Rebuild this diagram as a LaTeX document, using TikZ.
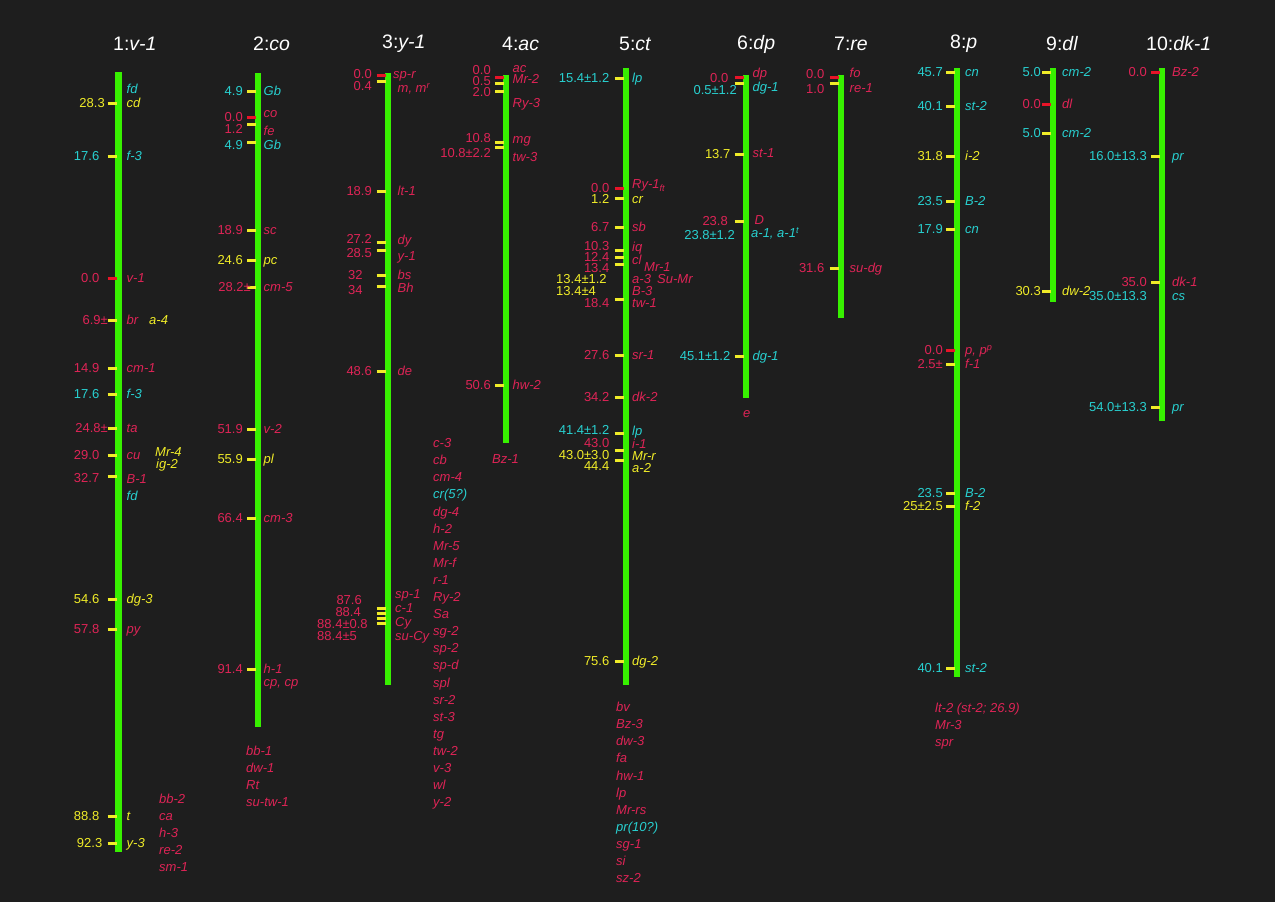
\documentclass[tikz,border=0pt]{standalone}
\usepackage{fontspec}
\setmainfont{Liberation Sans}

\definecolor{bg}{RGB}{30,30,30}
\definecolor{bargreen}{RGB}{55,240,0}
\definecolor{crim}{RGB}{222,36,86}
\definecolor{yel}{RGB}{240,236,40}
\definecolor{cyn}{RGB}{40,208,208}
\definecolor{redtk}{RGB}{232,20,40}

\tikzset{
  chrom/.style={fill=bargreen},
  locus/.style={line width=3pt},
  num/.style={anchor=east, inner sep=0pt, text height=9.3pt, text depth=0pt,
    font=\fontsize{13}{17}\selectfont},
  gene/.style={anchor=west, inner sep=0pt, text height=9.3pt, text depth=0pt,
    font=\fontsize{13}{17}\selectfont\itshape},
  chromname/.style={anchor=west, inner sep=0pt, text=white,
    font=\fontsize{19.5}{22}\selectfont}
}

\newcounter{lab}
% tick, number and gene name of one locus
\newcommand{\tk}[2]{\draw[locus,#2] (\barx-11,#1) -- (\barx-2,#1);}
\newcommand{\nm}[4][\numx]{\stepcounter{lab}\node[num,#3] (n\thelab) at (\barx-#1,#2) {#4};}
\newcommand{\gn}[4][\genx]{\stepcounter{lab}\node[gene,#3] (g\thelab) at (\barx+#1,#2) {#4};}
\newcommand{\loc}[6]{\tk{#1}{#2}\nm{#1}{#4}{#3}\gn{#1}{#6}{#5}}

\begin{document}
\begin{tikzpicture}[x=1pt,y=-1pt]
\fill[bg] (0,0) rectangle (1275,902);
\useasboundingbox (0,0) rectangle (1275,902);

% 1
\begin{scope}
\def\barx{118.5}\def\genx{8}\def\numx{19}
\node[chromname] (t1) at (113,44) {1:\textit{v-1}};
\fill[chrom] (\barx-3.3,72) rectangle (\barx+3.3,852);
\gn{89}{cyn}{fd}
\tk{103}{yel}\nm[13.5]{103}{yel}{28.3}\gn{103}{yel}{cd}
\loc{156}{yel}{17.6}{cyn}{f-3}{cyn}
\loc{278}{redtk}{0.0}{crim}{v-1}{crim}
\tk{320}{yel}\nm[10.5]{320}{crim}{6.9±}\gn{320}{crim}{br}
\node[gene,yel] (a4) at (149,320) {a-4};
\loc{368}{yel}{14.9}{crim}{cm-1}{crim}
\loc{394}{yel}{17.6}{cyn}{f-3}{cyn}
\tk{428}{yel}\nm[10.5]{428}{crim}{24.8±}\gn{428}{crim}{ta}
\loc{455}{yel}{29.0}{crim}{cu}{crim}
\node[gene,yel] (mr4) at (155,452) {Mr-4};
\node[gene,yel] (ig2) at (156,464) {ig-2};
\tk{476}{yel}\nm{478}{crim}{32.7}\gn{479}{crim}{B-1}
\gn{496}{cyn}{fd}
\loc{599}{yel}{54.6}{yel}{dg-3}{yel}
\loc{629}{yel}{57.8}{crim}{py}{crim}
\loc{816}{yel}{88.8}{yel}{t}{yel}
\tk{843}{yel}\nm[16]{843}{yel}{92.3}\gn{843}{yel}{y-3}
\foreach \g [count=\i from 0] in {bb-2,ca,h-3,re-2,sm-1}
  \node[gene,crim] (c1l\i) at (159,799+17*\i) {\g};
\end{scope}

% 2
\begin{scope}
\def\barx{258}\def\genx{5.5}\def\numx{15}
\node[chromname] (t2) at (253,44) {2:\textit{co}};
\fill[chrom] (\barx-3,73) rectangle (\barx+3,727);
\loc{91}{yel}{4.9}{cyn}{Gb}{cyn}
\tk{117}{redtk}\nm{117}{crim}{0.0}\gn{113}{crim}{co}
\tk{124}{yel}\nm{129}{crim}{1.2}\gn{131}{crim}{fe}
\tk{142}{yel}\nm{145}{cyn}{4.9}\gn{145}{cyn}{Gb}
\loc{230}{yel}{18.9}{crim}{sc}{crim}
\loc{260}{yel}{24.6}{yel}{pc}{yel}
\tk{287}{yel}\nm[7]{287}{crim}{28.2±}\gn{287}{crim}{cm-5}
\loc{429}{yel}{51.9}{crim}{v-2}{crim}
\loc{459}{yel}{55.9}{yel}{pl}{yel}
\loc{518}{yel}{66.4}{crim}{cm-3}{crim}
\loc{669}{yel}{91.4}{crim}{h-1}{crim}
\gn{682}{crim}{cp, cp}
\foreach \g [count=\i from 0] in {bb-1,dw-1,Rt,su-tw-1}
  \node[gene,crim] (c2l\i) at (246,751+17*\i) {\g};
\end{scope}

% 3
\begin{scope}
\def\barx{387.5}\def\genx{10}\def\numx{15.5}
\node[chromname] (t3) at (382,44) {3:\textit{y-1}};
\fill[chrom] (\barx-3,73) rectangle (\barx+3,685);
\tk{75}{redtk}\nm{74}{crim}{0.0}\gn[5.5]{74}{crim}{sp-r}
\tk{81}{yel}\nm{86}{crim}{0.4}\gn{88}{crim}{m, m\textsuperscript{r}}
\loc{191}{yel}{18.9}{crim}{lt-1}{crim}
\tk{242}{yel}\nm{239}{crim}{27.2}\gn{240}{crim}{dy}
\tk{250}{yel}\nm{253}{crim}{28.5}\gn{256}{crim}{y-1}
\tk{275}{yel}\node[num,anchor=west,crim] (n32) at (348,275) {32};\gn{275}{crim}{bs}
\tk{286}{yel}\node[num,anchor=west,crim] (n34) at (348,290) {34};\gn{288}{crim}{Bh}
\loc{371}{yel}{48.6}{crim}{de}{crim}
\foreach \t in {608,613,618,623} {\tk{\t}{yel}}
\node[num,crim] (n876) at (362,600) {87.6};
\node[num,crim] (n884) at (361,612) {88.4};
\node[num,anchor=west,crim] (n884a) at (317,624) {88.4±0.8};
\node[num,anchor=west,crim] (n884b) at (317,636) {88.4±5};
\gn[7.5]{594}{crim}{sp-1}
\gn[7.5]{608}{crim}{c-1}
\gn[7.5]{622}{crim}{Cy}
\gn[7.5]{636}{crim}{su-Cy}
\foreach \g/\c [count=\i from 0] in {c-3/crim,cb/crim,cm-4/crim,cr(5?)/cyn,
    dg-4/crim,h-2/crim,Mr-5/crim,Mr-f/crim,r-1/crim,Ry-2/crim,Sa/crim,
    sg-2/crim,sp-2/crim,sp-d/crim,spl/crim,sr-2/crim,st-3/crim,tg/crim,
    tw-2/crim,v-3/crim,wl/crim,y-2/crim}
  \node[gene,text=\c] (c3l\i) at (433,443+17.1*\i) {\g};
\end{scope}

% 4
\begin{scope}
\def\barx{506}\def\genx{6.5}\def\numx{15}
\node[chromname] (t4) at (502,44) {4:\textit{ac}};
\fill[chrom] (\barx-3,75) rectangle (\barx+3,443);
\tk{77.5}{redtk}\nm{70}{crim}{0.0}\gn{68}{crim}{ac}
\tk{83}{yel}\nm{81}{crim}{0.5}\gn{79}{crim}{Mr-2}
\tk{91}{yel}\nm{92}{crim}{2.0}\gn{103}{crim}{Ry-3}
\tk{142}{yel}\nm{138}{crim}{10.8}\gn{139}{crim}{mg}
\tk{147}{yel}\nm{153}{crim}{10.8±2.2}\gn{157}{crim}{tw-3}
\loc{385}{yel}{50.6}{crim}{hw-2}{crim}
\node[gene,crim] (bz1) at (492,459) {Bz-1};
\end{scope}

% 5
\begin{scope}
\def\barx{625.5}\def\genx{6.5}\def\numx{16}
\node[chromname] (t5) at (619,44) {5:\textit{ct}};
\fill[chrom] (\barx-3,68) rectangle (\barx+3,685);
\loc{78}{yel}{15.4±1.2}{cyn}{lp}{cyn}
\tk{188}{redtk}\nm{188}{crim}{0.0}\gn{184}{crim}{Ry-1\textsubscript{ft}}
\tk{198}{yel}\nm{199}{yel}{1.2}\gn{199}{yel}{cr}
\loc{227}{yel}{6.7}{crim}{sb}{crim}
\tk{250}{yel}\nm{246}{crim}{10.3}\gn{247}{crim}{iq}
\tk{257}{yel}\nm{257}{crim}{12.4}\gn{259.5}{crim}{cl}
\tk{264}{yel}\nm{268}{crim}{13.4}
\node[gene,crim] (mr1) at (644,267) {Mr-1};
\node[num,anchor=west,yel] (n134a) at (556,279) {13.4±1.2};
\gn{279}{crim}{a-3}
\node[gene,crim] (sumr) at (657,279) {Su-Mr};
\node[num,anchor=west,yel] (n134b) at (556,291) {13.4±4};
\gn{291}{crim}{B-3}
\tk{299}{yel}\nm{303}{crim}{18.4}\gn{303}{crim}{tw-1}
\loc{355}{yel}{27.6}{crim}{sr-1}{crim}
\loc{397}{yel}{34.2}{crim}{dk-2}{crim}
\tk{433}{yel}\nm{430}{cyn}{41.4±1.2}\gn{431}{cyn}{lp}
\nm{443}{crim}{43.0}\gn{444}{crim}{i-1}
\tk{450}{yel}\nm{455}{yel}{43.0±3.0}\gn{456}{yel}{Mr-r}
\tk{460}{yel}\nm{466}{yel}{44.4}\gn{467.5}{yel}{a-2}
\loc{661}{yel}{75.6}{yel}{dg-2}{yel}
\foreach \g/\c [count=\i from 0] in {bv/crim,Bz-3/crim,dw-3/crim,fa/crim,
    hw-1/crim,lp/crim,Mr-rs/crim,pr(10?)/cyn,sg-1/crim,si/crim,sz-2/crim}
  \node[gene,text=\c] (c5l\i) at (616,707+17.1*\i) {\g};
\end{scope}

% 6
\begin{scope}
\def\barx{745.5}\def\genx{7}\def\numx{15}
\node[chromname] (t6) at (737,44) {6:\textit{dp}};
\fill[chrom] (\barx-3,75) rectangle (\barx+3,398);
\tk{77.5}{redtk}\nm[17]{78}{crim}{0.0}\gn{73}{crim}{dp}
\tk{83}{yel}\nm[8.5]{90}{cyn}{0.5±1.2}\gn{87}{cyn}{dg-1}
\tk{154}{yel}\nm{154}{yel}{13.7}\gn{153}{crim}{st-1}
\tk{221}{yel}\nm[17.5]{221}{crim}{23.8}\gn[9]{220}{crim}{D}
\nm[10.5]{235}{cyn}{23.8±1.2}\gn[5.5]{233}{cyn}{a-1, a-1\textsuperscript{t}}
\loc{356}{yel}{45.1±1.2}{cyn}{dg-1}{cyn}
\node[gene,crim] (e) at (743,413) {e};
\end{scope}

% 7
\begin{scope}
\def\barx{840.5}\def\genx{9}\def\numx{16}
\node[chromname] (t7) at (834,44) {7:\textit{re}};
\fill[chrom] (\barx-3,75) rectangle (\barx+3,318);
\tk{77.5}{redtk}\nm{74}{crim}{0.0}\gn{73}{crim}{fo}
\tk{83}{yel}\nm{89}{crim}{1.0}\gn{88}{crim}{re-1}
\loc{268}{yel}{31.6}{crim}{su-dg}{crim}
\end{scope}

% 8
\begin{scope}
\def\barx{957}\def\genx{8}\def\numx{14}
\node[chromname] (t8) at (950,44) {8:\textit{p}};
\fill[chrom] (\barx-3,68) rectangle (\barx+3,677);
\loc{72}{yel}{45.7}{cyn}{cn}{cyn}
\loc{106}{yel}{40.1}{cyn}{st-2}{cyn}
\loc{156}{yel}{31.8}{yel}{i-2}{yel}
\loc{201}{yel}{23.5}{cyn}{B-2}{cyn}
\loc{229}{yel}{17.9}{cyn}{cn}{cyn}
\loc{350}{redtk}{0.0}{crim}{p, p\textsuperscript{p}}{crim}
\loc{364}{yel}{2.5±}{crim}{f-1}{crim}
\loc{493}{yel}{23.5}{cyn}{B-2}{cyn}
\loc{506}{yel}{25±2.5}{yel}{f-2}{yel}
\loc{668}{yel}{40.1}{cyn}{st-2}{cyn}
\foreach \g [count=\i from 0] in {lt-2 (st-2; 26.9),Mr-3,spr}
  \node[gene,crim] (c8l\i) at (935,708+17*\i) {\g};
\end{scope}

% 9
\begin{scope}
\def\barx{1053}\def\genx{9}\def\numx{12}
\node[chromname] (t9) at (1046,44) {9:\textit{dl}};
\fill[chrom] (\barx-3,68) rectangle (\barx+3,302);
\loc{72}{yel}{5.0}{cyn}{cm-2}{cyn}
\loc{104}{redtk}{0.0}{crim}{dl}{crim}
\loc{133}{yel}{5.0}{cyn}{cm-2}{cyn}
\loc{291}{yel}{30.3}{yel}{dw-2}{yel}
\end{scope}

% 10
\begin{scope}
\def\barx{1162}\def\genx{10}\def\numx{15}
\node[chromname] (t10) at (1146,44) {10:\textit{dk-1}};
\fill[chrom] (\barx-3,68) rectangle (\barx+3,421);
\loc{72}{redtk}{0.0}{crim}{Bz-2}{crim}
\loc{156}{yel}{16.0±13.3}{cyn}{pr}{cyn}
\loc{282}{yel}{35.0}{crim}{dk-1}{crim}
\nm{296}{cyn}{35.0±13.3}\gn{296}{cyn}{cs}
\loc{407}{yel}{54.0±13.3}{cyn}{pr}{cyn}
\end{scope}
\end{tikzpicture}
\end{document}
